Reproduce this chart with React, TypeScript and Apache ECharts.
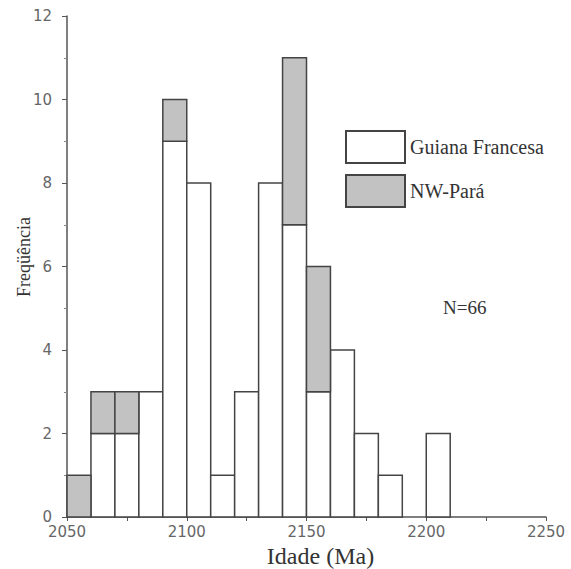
import React, { useEffect, useRef } from "react";
import * as echarts from "echarts";

const binStart = [2050, 2060, 2070, 2080, 2090, 2100, 2110, 2120, 2130, 2140, 2150, 2160, 2170, 2180, 2190, 2200];
const binWidth = 10;
const guiana = [0, 2, 2, 3, 9, 8, 1, 3, 8, 7, 3, 4, 2, 1, 0, 2];
const nwPara = [1, 1, 1, 0, 1, 0, 0, 0, 0, 4, 3, 0, 0, 0, 0, 0];
const xTicks = [2050, 2100, 2150, 2200, 2250];
const yTicks = [0, 2, 4, 6, 8, 10, 12];

const serif = "'Liberation Serif', 'DejaVu Serif', serif";
const sans = "'DejaVu Sans', 'Liberation Sans', sans-serif";

export default function App() {
  const ref = useRef<HTMLDivElement>(null);
  useEffect(() => {
    if (!ref.current) return;
    const chart = echarts.init(ref.current, null, { renderer: "svg" });

    const gData = binStart.map((s, i) => [s, s + binWidth, 0, guiana[i]]);
    const nData = binStart.map((s, i) => [s, s + binWidth, guiana[i], guiana[i] + nwPara[i]]);

    const renderItem = (params: any, api: any) => {
      const x0 = api.value(0);
      const x1 = api.value(1);
      const y0 = api.value(2);
      const y1 = api.value(3);
      if (y1 <= y0) return null;
      const p0 = api.coord([x0, y0]);
      const p1 = api.coord([x1, y1]);
      return {
        type: "rect",
        shape: { x: p0[0], y: p1[1], width: p1[0] - p0[0], height: p0[1] - p1[1] },
        style: api.style(),
      };
    };

    chart.setOption({
      animation: false,
      backgroundColor: "#fff",
      grid: { left: 67, right: 25, top: 16, bottom: 52, outerBoundsMode: "none", containLabel: false },
      legend: {
        orient: "vertical",
        left: 345,
        top: 130,
        padding: 0,
        itemWidth: 59,
        itemHeight: 32,
        itemGap: 10,
        icon: "rect",
        textStyle: { fontFamily: serif, fontSize: 20, color: "#333" },
        data: ["Guiana Francesa", "NW-Pará"],
      },
      xAxis: {
        type: "value",
        min: 2050,
        max: 2250,
        interval: 50,
        name: "Idade (Ma)",
        nameLocation: "middle",
        nameGap: 22,
        nameTextStyle: { fontFamily: serif, fontSize: 24, color: "#333", padding: [0, 0, 0, 28] },
        axisLine: { show: true, lineStyle: { color: "#555", width: 1.5 } },
        axisTick: { show: true, inside: false, length: 4, lineStyle: { color: "#555" } },
        minorTick: { show: true, splitNumber: 2, length: 4, lineStyle: { color: "#555" } },
        axisLabel: {
          fontFamily: sans,
          fontSize: 15,
          lineHeight: 12,
          color: "#666",
          margin: 9,
          formatter: (v: number) => (xTicks.includes(v) ? String(v) : ""),
        },
        splitLine: { show: false },
      },
      yAxis: {
        type: "value",
        min: 0,
        max: 12,
        interval: 2,
        axisLine: { show: true, lineStyle: { color: "#555", width: 1.5 } },
        axisTick: { show: true, inside: false, length: 5, lineStyle: { color: "#555" } },
        minorTick: { show: true, splitNumber: 2, length: 3, lineStyle: { color: "#888" } },
        axisLabel: {
          fontFamily: sans,
          fontSize: 15,
          lineHeight: 12,
          color: "#666",
          margin: 15,
          formatter: (v: number) => (yTicks.includes(v) ? String(v) : ""),
        },
        splitLine: { show: false },
      },
      series: [
        {
          name: "Guiana Francesa",
          type: "custom",
          renderItem,
          encode: { x: [0, 1], y: [2, 3] },
          itemStyle: { color: "#ffffff", borderColor: "#444", borderWidth: 1.5 },
          data: gData,
        },
        {
          name: "NW-Pará",
          type: "custom",
          renderItem,
          encode: { x: [0, 1], y: [2, 3] },
          itemStyle: { color: "#c2c2c2", borderColor: "#444", borderWidth: 1.5 },
          data: nData,
        },
      ],
      graphic: [
        {
          type: "text",
          left: 443,
          top: 298,
          style: { text: "N=66", fontFamily: serif, fontSize: 19, fill: "#333" },
        },
        {
          type: "text",
          x: 24,
          y: 257,
          rotation: Math.PI / 2,
          style: {
            text: "Freqüência",
            fontFamily: serif,
            fontSize: 18,
            fill: "#333",
            align: "center",
            verticalAlign: "middle",
          },
        },
      ],
    });
    return () => chart.dispose();
  }, []);
  return <div ref={ref} style={{ width: 571, height: 569, position: "absolute", left: 0, top: 0 }} />;
}
